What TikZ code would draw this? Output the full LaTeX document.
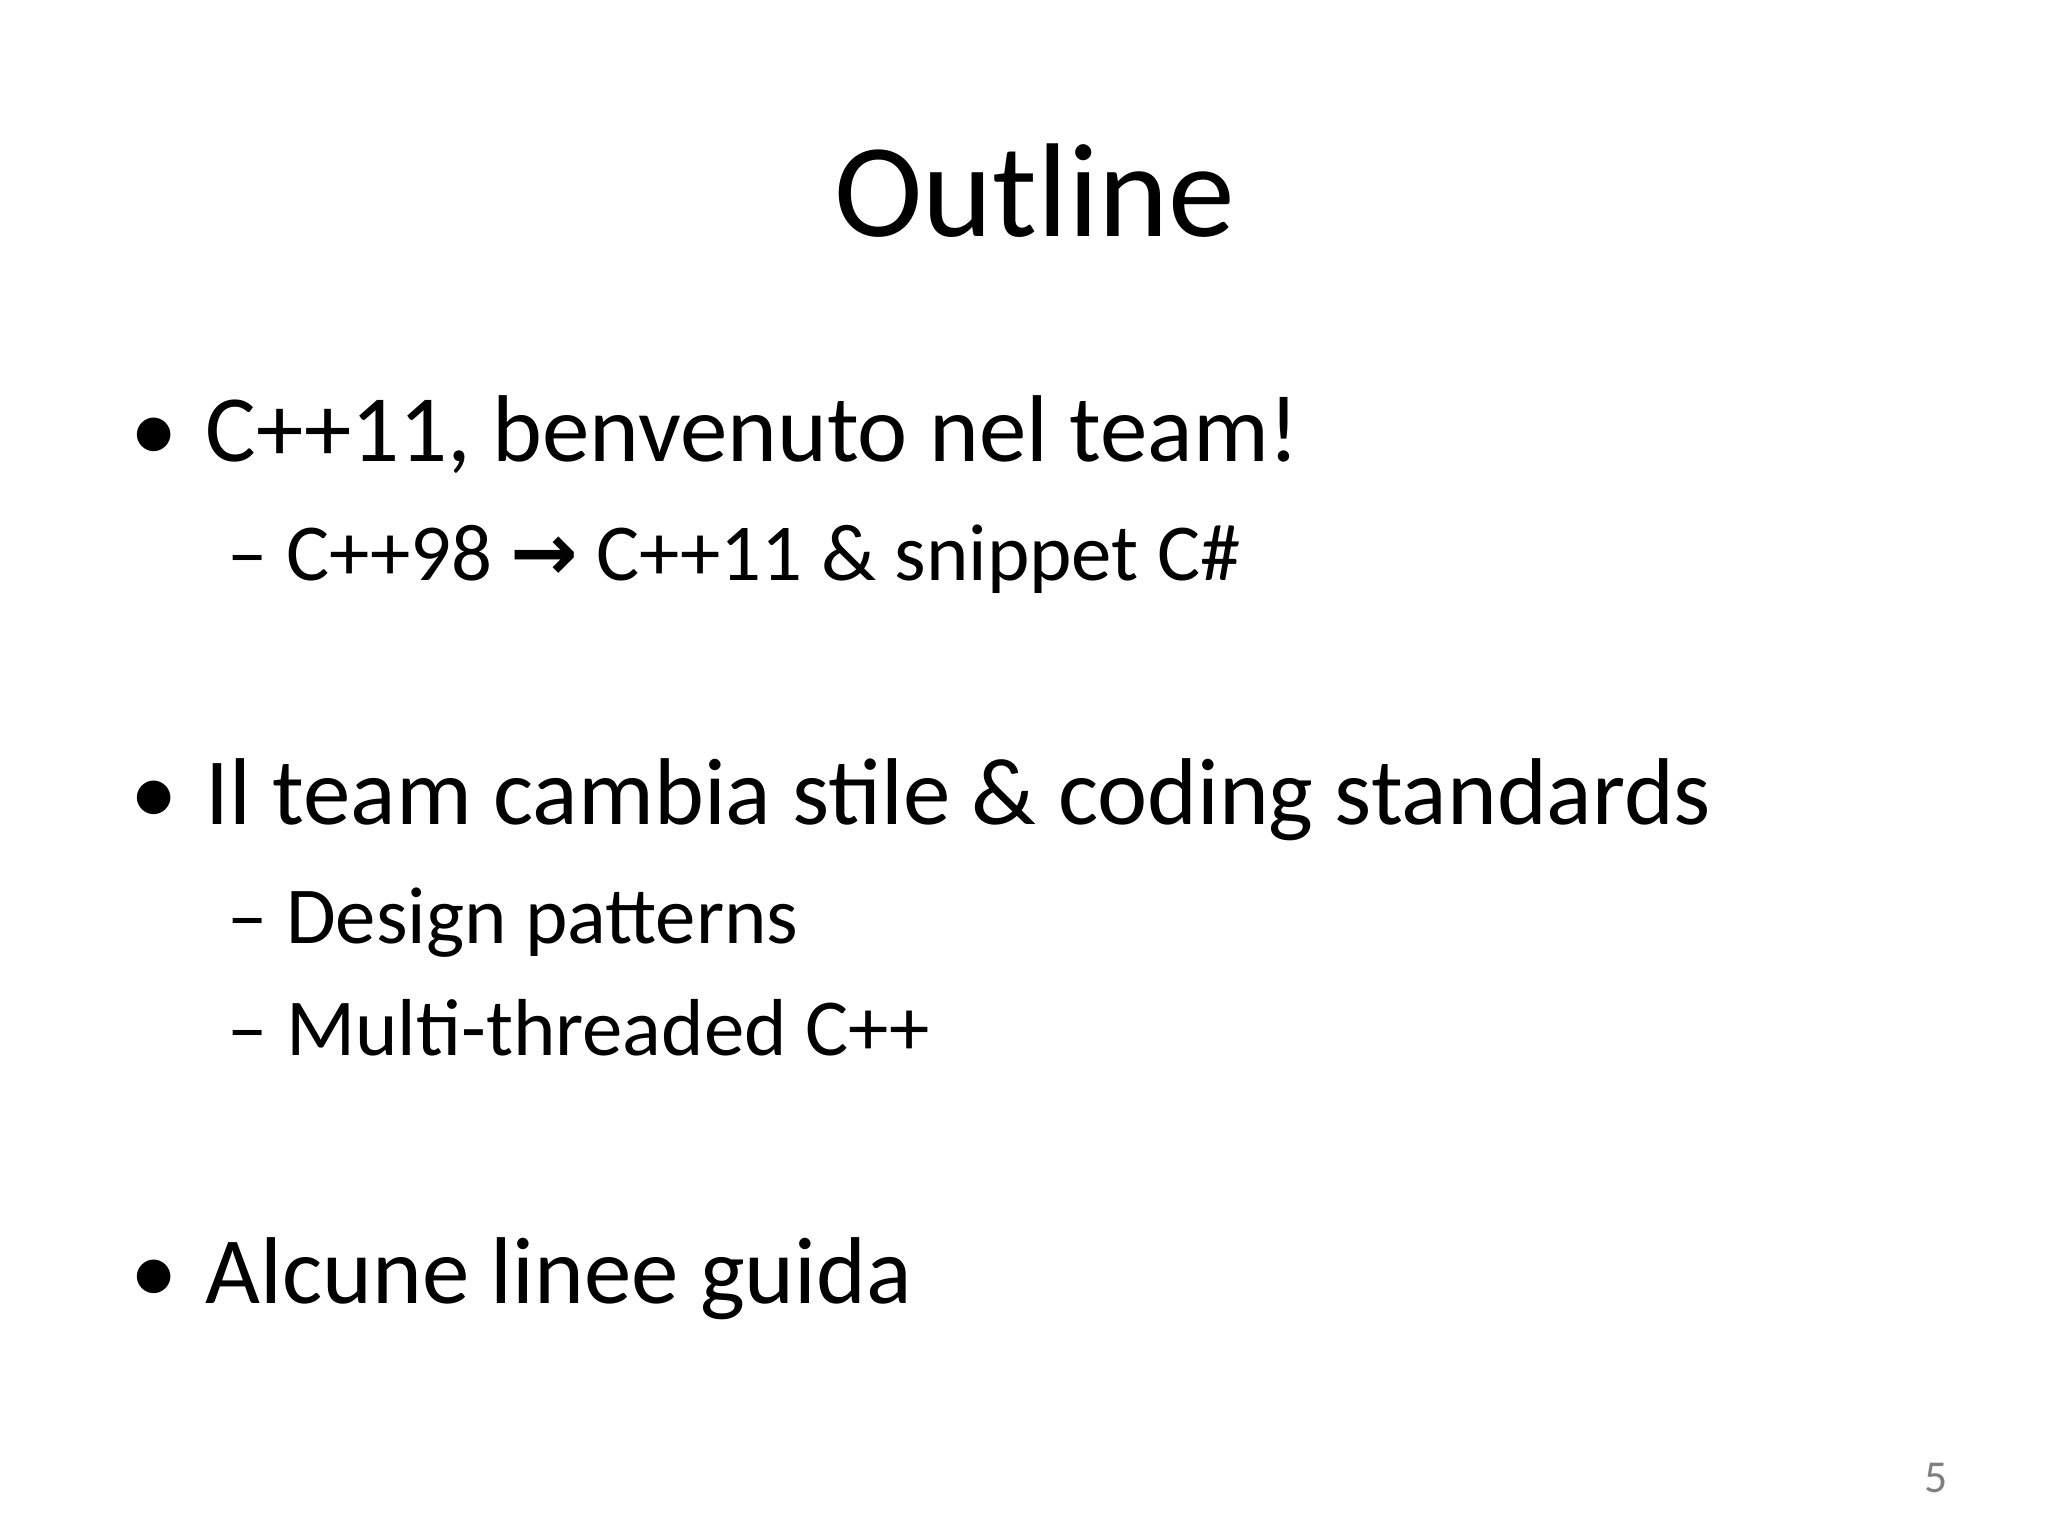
\documentclass[tikz,border=0pt]{standalone}
\usepackage{fontspec}
\setmainfont{Carlito}
\newfontfamily\symf{DejaVu Sans}
\begin{document}
\begin{tikzpicture}[
  every node/.style={inner sep=0pt,anchor=base west},
  lvlone/.style={font=\fontsize{27}{32}\selectfont},
  lvltwo/.style={font=\fontsize{23}{28}\selectfont}]
\useasboundingbox[fill=white] (0,0) rectangle (20.48,15.36);
\node[anchor=base,font=\fontsize{38}{44}\selectfont] (title) at (10.35,12.99) {Outline};
\node[lvlone] (b1) at (1.30,10.74) {•};
\node[lvlone] (t1) at (2.05,10.74) {C++11, benvenuto nel team!};
\node[lvltwo] (s1) at (2.27,9.55) {– C++98 {\symf\bfseries →} C++11 \& snippet C\#};
\node[lvlone] (b2) at (1.30,7.11) {•};
\node[lvlone] (t2) at (2.05,7.11) {Il team cambia stile \& coding standards};
\node[lvltwo] (s2) at (2.27,5.92) {– Design patterns};
\node[lvltwo] (s3) at (2.27,4.80) {– Multi-threaded C++};
\node[lvlone] (b3) at (1.30,2.32) {•};
\node[lvlone] (t3) at (2.05,2.32) {Alcune linee guida};
\node[anchor=base,font=\fontsize{13}{15}\selectfont,text=gray] (pg) at (19.36,0.43) {5};
\end{tikzpicture}
\end{document}
